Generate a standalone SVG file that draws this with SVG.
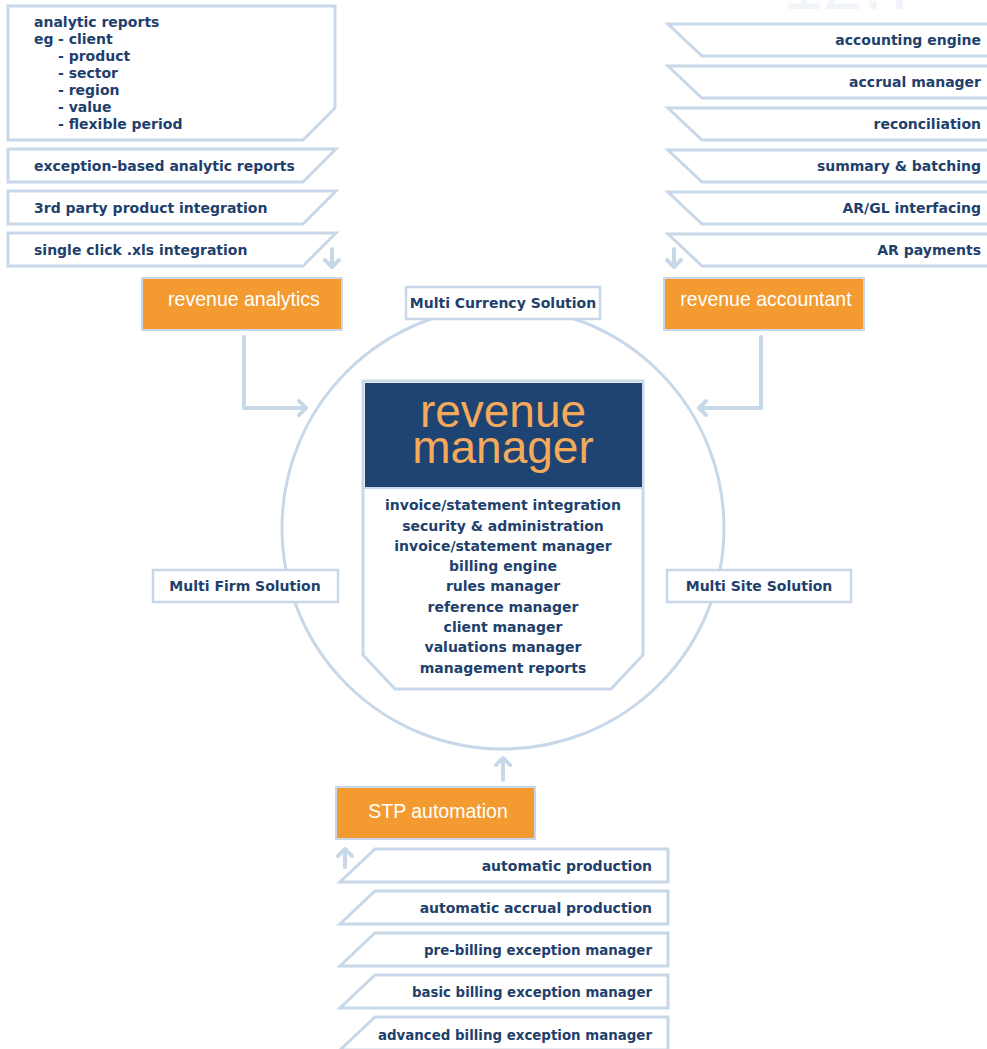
<svg xmlns="http://www.w3.org/2000/svg" width="987" height="1049" viewBox="0 0 987 1049">
<style>
.box{fill:#fff;stroke:#c8d8e8;stroke-width:3}
.lbl{fill:#fff;stroke:#c8d8e8;stroke-width:2.5}
.org{fill:#f39b31;stroke:#c8d8e8;stroke-width:2}
.t{font-family:"DejaVu Sans",Verdana,sans-serif;font-weight:bold;font-size:14px;fill:#1f3f6c}
.tr{text-anchor:end}
.tm{text-anchor:middle}
.ot{font-family:"Liberation Sans",Arial,sans-serif;font-size:19.5px;fill:#fff;text-anchor:middle}
.big{font-family:"Liberation Sans",Arial,sans-serif;font-size:46px;fill:#f4a95b;text-anchor:middle}
.conn{fill:none;stroke:#c8d8e8;stroke-width:4;stroke-linecap:round;stroke-linejoin:round}
</style>
<rect width="987" height="1049" fill="#fff"/>
<text x="783" y="9" font-family="Liberation Sans, Arial, sans-serif" font-size="72" fill="#f1f4f8">12.7</text>

<g id="connectors">
<path class="conn" d="M332,249 V267 M325,260 L332,267 L339,260"/>
<path class="conn" d="M674,249 V267 M667,260 L674,267 L681,260"/>
<path class="conn" d="M244,337 V408 H306 M299,401 L306,408 L299,415"/>
<path class="conn" d="M761,337 V408 H699 M706,401 L699,408 L706,415"/>
<path class="conn" d="M503,780 V758 M496,765 L503,758 L510,765"/>
<path class="conn" d="M345,867 V849 M338,856 L345,849 L352,856"/>
</g>

<g id="ring">
<circle cx="503" cy="528" r="221" fill="none" stroke="#c8d8e8" stroke-width="3"/>
</g>

<g id="analytic-reports">
<path class="box" d="M8,6 H335 V108 L303,140 H8 Z"/>
<text class="t" x="34" y="27">analytic reports</text>
<text class="t" x="34" y="44">eg</text>
<text class="t" x="58" y="44">- client</text>
<text class="t" x="58" y="61">- product</text>
<text class="t" x="58" y="78">- sector</text>
<text class="t" x="58" y="95">- region</text>
<text class="t" x="58" y="112">- value</text>
<text class="t" x="58" y="129">- flexible period</text>
</g>
<g id="exception-reports">
<path class="box" d="M8,149 H336 L303,182 H8 Z"/>
<text class="t" x="34" y="171">exception-based analytic reports</text>
</g>
<g id="third-party">
<path class="box" d="M8,191 H336 L303,224 H8 Z"/>
<text class="t" x="34" y="213">3rd party product integration</text>
</g>
<g id="xls-integration">
<path class="box" d="M8,233 H336 L303,266 H8 Z"/>
<text class="t" x="34" y="255">single click .xls integration</text>
</g>

<g id="accounting-engine">
<path class="box" d="M992,24 H668 L702,56 H992"/>
<text class="t tr" x="981" y="45">accounting engine</text>
</g>
<g id="accrual-manager">
<path class="box" d="M992,66 H668 L702,98 H992"/>
<text class="t tr" x="981" y="87">accrual manager</text>
</g>
<g id="reconciliation">
<path class="box" d="M992,108 H668 L702,140 H992"/>
<text class="t tr" x="981" y="129">reconciliation</text>
</g>
<g id="summary-batching">
<path class="box" d="M992,150 H668 L702,182 H992"/>
<text class="t tr" x="981" y="171">summary &amp; batching</text>
</g>
<g id="ar-gl">
<path class="box" d="M992,192 H668 L702,224 H992"/>
<text class="t tr" x="981" y="213">AR/GL interfacing</text>
</g>
<g id="ar-payments">
<path class="box" d="M992,234 H668 L702,266 H992"/>
<text class="t tr" x="981" y="255">AR payments</text>
</g>

<g id="revenue-analytics">
<rect class="org" x="142" y="278" width="200" height="52"/>
<text class="ot" x="244" y="306">revenue analytics</text>
</g>
<g id="revenue-accountant">
<rect class="org" x="664" y="278" width="200" height="52"/>
<text class="ot" x="766" y="306">revenue accountant</text>
</g>

<g id="multi-currency">
<rect class="lbl" x="406" y="287" width="194" height="32"/>
<text class="t tm" x="503" y="308" font-size="13.5">Multi Currency Solution</text>
</g>
<g id="multi-firm">
<rect class="lbl" x="153" y="570" width="185" height="32"/>
<text class="t tm" x="245" y="591" font-size="13.5">Multi Firm Solution</text>
</g>
<g id="multi-site">
<rect class="lbl" x="667" y="570" width="184" height="32"/>
<text class="t tm" x="759" y="591" font-size="13.5">Multi Site Solution</text>
</g>

<g id="revenue-manager">
<path class="box" d="M363,381 H643 V655 L611,689 H395 L363,655 Z"/>
<rect x="365" y="383" width="277" height="104" fill="#1d4473"/>
<line x1="364" y1="488" x2="642" y2="488" stroke="#c8d8e8" stroke-width="2"/>
<text class="big" x="503" y="427">revenue</text>
<text class="big" x="503" y="463">manager</text>
<text class="t tm" x="503" y="510">invoice/statement integration</text>
<text class="t tm" x="503" y="531">security &amp; administration</text>
<text class="t tm" x="503" y="551">invoice/statement manager</text>
<text class="t tm" x="503" y="571">billing engine</text>
<text class="t tm" x="503" y="591">rules manager</text>
<text class="t tm" x="503" y="612">reference manager</text>
<text class="t tm" x="503" y="632">client manager</text>
<text class="t tm" x="503" y="652">valuations manager</text>
<text class="t tm" x="503" y="673">management reports</text>
</g>

<g id="stp-automation">
<rect class="org" x="336" y="787" width="199" height="52"/>
<text class="ot" x="438" y="818">STP automation</text>
</g>

<g id="automatic-production">
<path class="box" d="M375,849 H668 V882 H340 Z"/>
<text class="t tr" x="652" y="871">automatic production</text>
</g>
<g id="automatic-accrual">
<path class="box" d="M375,891 H668 V924 H340 Z"/>
<text class="t tr" x="652" y="913">automatic accrual production</text>
</g>
<g id="pre-billing">
<path class="box" d="M375,933 H668 V966 H340 Z"/>
<text class="t tr" x="652" y="955" textLength="228" lengthAdjust="spacingAndGlyphs">pre-billing exception manager</text>
</g>
<g id="basic-billing">
<path class="box" d="M375,975 H668 V1008 H340 Z"/>
<text class="t tr" x="652" y="997" textLength="240" lengthAdjust="spacingAndGlyphs">basic billing exception manager</text>
</g>
<g id="advanced-billing">
<path class="box" d="M375,1017 H668 V1050 H340 Z"/>
<text class="t tr" x="652" y="1040" textLength="274" lengthAdjust="spacingAndGlyphs">advanced billing exception manager</text>
</g>
</svg>
